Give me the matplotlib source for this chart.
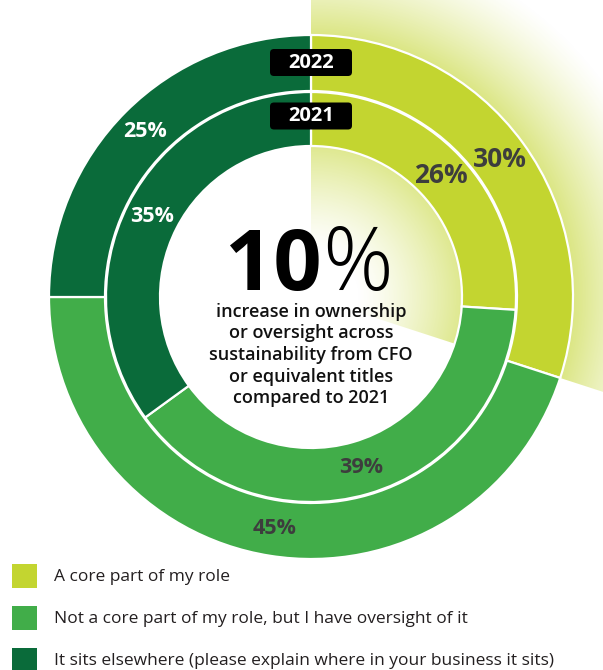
import numpy as np
import matplotlib
matplotlib.use('Agg')
import matplotlib.pyplot as plt
from matplotlib.patches import Wedge, Rectangle, FancyBboxPatch

plt.rcParams['font.family'] = ['Open Sans', 'DejaVu Sans']

# data
categories = ["A core part of my role",
              "Not a core part of my role, but I have oversight of it",
              "It sits elsewhere (please explain where in your business it sits)"]
values_2022 = [30, 45, 25]
values_2021 = [26, 39, 35]
colors = ['#c3d530', '#41ad49', '#0a6b3a']
label_colors = ['#3d3d3d', '#3d3d3d', 'white']
years = ["2022", "2021"]
headline = "10"
blurb = ["increase in ownership", "or oversight across",
         "sustainability from CFO", "or equivalent titles", "compared to 2021"]

W, H = 603, 670
fig = plt.figure(figsize=(W / 100, H / 100), dpi=100)
ax = fig.add_axes([0, 0, 1, 1])
ax.set_xlim(0, W)
ax.set_ylim(0, H)
ax.set_axis_off()

cx, cy = 311, H - 297
r_out, r_in = 262, 206

# radial glow behind the first slice
xs = np.arange(W) + 0.5
ys = H - (np.arange(H) + 0.5)
X, Y = np.meshgrid(xs, ys)
R = np.hypot(X - cx, Y - cy)
alpha = np.zeros_like(R)
inner = R < 160
alpha[inner] = np.clip((R[inner] - 45) / (152 - 45), 0, 1) ** 1.3 * 0.55
outer = R >= 160
alpha[outer] = np.clip(1 - (R[outer] - 262) / (365 - 262), 0, 1) ** 1.3 * 0.6
img = np.zeros((H, W, 4))
img[..., :3] = matplotlib.colors.to_rgb(colors[0])
img[..., 3] = alpha
start_deg = 90 - values_2022[0] / 100 * 360
clip = Wedge((cx, cy), 420, start_deg, 90, transform=ax.transData)
im = ax.imshow(img, extent=(0, W, 0, H), origin='upper', zorder=0,
               interpolation='bilinear')
im.set_clip_path(clip)

# rings
for vals, radius, width in [(values_2022, r_out, 56), (values_2021, r_in - 1, 54)]:
    ax.pie(vals, colors=colors, radius=radius, center=(cx, cy),
           startangle=90, counterclock=False,
           wedgeprops=dict(width=width, edgecolor='white', linewidth=1.6))
    mid = radius - width / 2
    cum = np.cumsum([0] + vals[:-1])
    for v, c0, lc in zip(vals, cum, label_colors):
        ang = np.deg2rad(90 - (c0 + v / 2) / 100 * 360)
        fs = 19 if c0 == 0 else 15.5
        ax.text(cx + mid * np.cos(ang), cy + mid * np.sin(ang), f"{v}%",
                ha='center', va='center', fontsize=fs, fontweight='bold',
                color=lc, zorder=5)

ax.set_xlim(0, W)
ax.set_ylim(0, H)
ax.set_aspect('equal')

# year tags
for yr, ty in zip(years, [H - 62.5, H - 116]):
    ax.add_patch(FancyBboxPatch((cx - 41, ty - 13.5), 82, 27,
                                boxstyle="round,pad=0,rounding_size=4",
                                fc='black', ec='none', zorder=6))
    ax.text(cx, ty, yr, ha='center', va='center', color='white',
            fontsize=14.5, fontweight='bold', zorder=7)

# centre text
ax.text(322, H - 290, headline, ha='right', va='baseline', fontsize=61,
        fontweight='bold', color='black', zorder=5)
ax.text(322, H - 290, "%", ha='left', va='baseline', fontsize=63,
        fontweight='light', color='black', zorder=5)
for i, line in enumerate(blurb):
    ax.text(cx, H - (312 + i * 21.5), line, ha='center', va='center',
            fontsize=13, fontweight='semibold', color='#111111', zorder=5)

# legend
for i, (cat, col) in enumerate(zip(categories, colors)):
    top = 564 + i * 42
    ax.add_patch(Rectangle((12, H - top - 24), 25, 24, fc=col, ec='none'))
    ax.text(54, H - (top + 13), cat, ha='left', va='center', fontsize=12.5,
            color='#231f20')

fig.savefig("out.png", dpi=100)
